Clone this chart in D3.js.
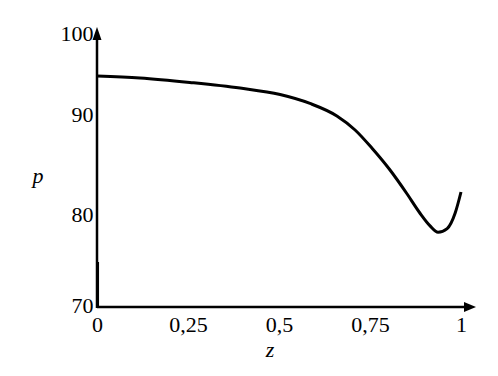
<!DOCTYPE html>
<html><head><meta charset="utf-8">
<script src="https://cdn.jsdelivr.net/npm/d3@7"></script>
<style>body{margin:0;background:#fff}svg{display:block}text{font-family:"Liberation Serif","Times New Roman",serif;fill:#000}</style>
</head><body>
<script>
const zValues = [0, 0.118, 0.255, 0.393, 0.503, 0.585, 0.659, 0.709, 0.755, 0.805, 0.852, 0.887, 0.915, 0.937, 0.962, 0.984, 1.0];
const pValues = [94.7, 94.45, 93.9, 93.2, 92.4, 91.3, 89.8, 88.4, 86.6, 84.4, 82.0, 80.1, 78.7, 78.0, 78.4, 80.1, 82.2];
const xTicks = [0, 0.25, 0.5, 0.75, 1];
const xTickLabels = ["0", "0,25", "0,5", "0,75", "1"];
const yTicks = [70, 80, 90, 100];
const yTickLabels = ["70", "80", "90", "100"];

const W = 498, H = 376;
const svg = d3.select("body").append("svg").attr("width", W).attr("height", H);

const x = d3.scaleLinear().domain([0, 1]).range([97, 461]);
const y = d3.scaleLinear().domain([70, 80, 90, 100]).range([305, 214, 114, 33]);

const x0 = x(0), yAxisY = 307;

svg.append("line").attr("x1", x0).attr("y1", yAxisY).attr("x2", 468).attr("y2", yAxisY)
  .attr("stroke", "#000").attr("stroke-width", 2.5);
svg.append("path").attr("d", `M${476},${yAxisY} L${464},${yAxisY-5} L${464},${yAxisY+5} Z`).attr("fill", "#000");
svg.append("line").attr("x1", x0).attr("y1", yAxisY + 1).attr("x2", x0).attr("y2", 36)
  .attr("stroke", "#000").attr("stroke-width", 2.5);
svg.append("line").attr("x1", x0 + 0.8).attr("y1", yAxisY).attr("x2", x0 + 0.8).attr("y2", 262)
  .attr("stroke", "#000").attr("stroke-width", 2.5);
svg.append("path").attr("d", `M${x0},${27} L${x0-4.5},${40} L${x0+4.5},${40} Z`).attr("fill", "#000");

const xAxis = d3.axisBottom(x).tickValues(xTicks).tickSize(0)
  .tickFormat((d, i) => xTickLabels[i]);
const gx = svg.append("g").attr("transform", `translate(0,${yAxisY})`).call(xAxis);
gx.select(".domain").remove();
gx.selectAll("text").attr("font-size", 22).attr("dy", "1.0em")
  .style("font-family", '"Liberation Serif",serif');

const yAxis = d3.axisLeft(y).tickValues(yTicks).tickSize(0)
  .tickFormat((d, i) => yTickLabels[i]);
const gy = svg.append("g").attr("transform", `translate(${x0},0)`).call(yAxis);
gy.select(".domain").remove();
gy.selectAll("text").attr("font-size", 22).attr("dx", "-0.02em")
  .style("font-family", '"Liberation Serif",serif');

svg.append("text").attr("x", 38).attr("y", 183).attr("text-anchor", "middle")
  .attr("font-size", 22).attr("font-style", "italic").text("p");
svg.append("text").attr("x", 270).attr("y", 357).attr("text-anchor", "middle")
  .attr("font-size", 22).attr("font-style", "italic").text("z");

const data = zValues.map((z, i) => [z, pValues[i]]);
const line = d3.line().x(d => x(d[0])).y(d => y(d[1])).curve(d3.curveMonotoneX);
svg.append("path").datum(data).attr("d", line).attr("fill", "none")
  .attr("stroke", "#000").attr("stroke-width", 3);
</script>
</body></html>
